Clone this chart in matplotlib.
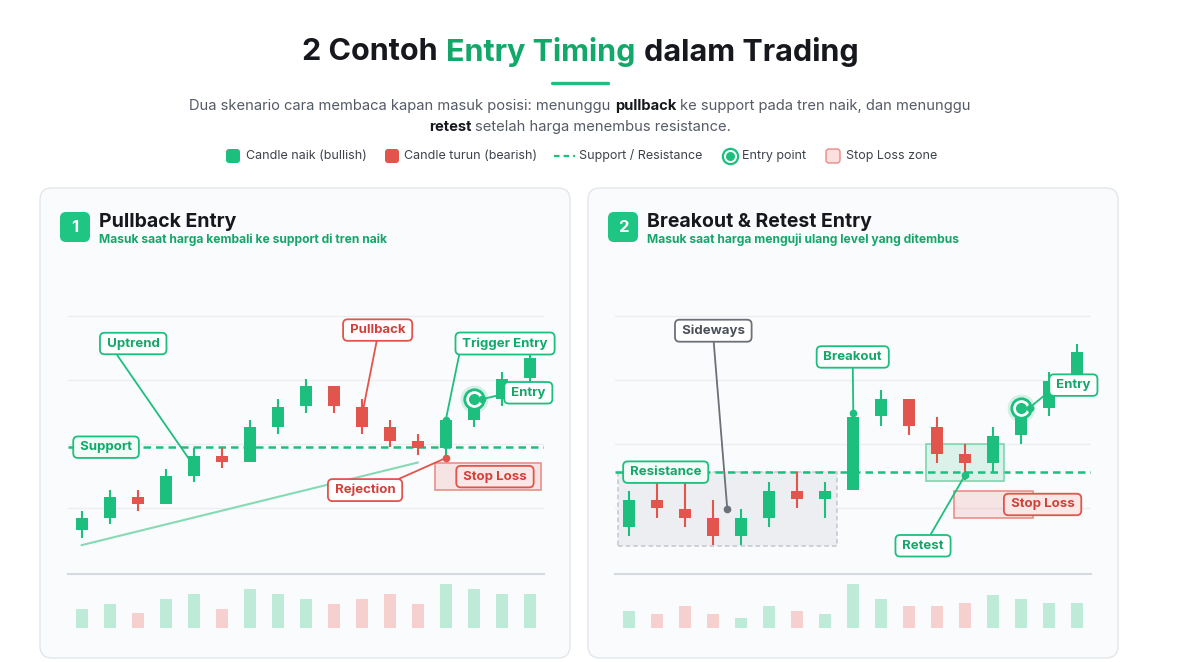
import numpy as np
import matplotlib.pyplot as plt
from matplotlib.patches import FancyBboxPatch, Rectangle

plt.rcParams['font.family'] = ['Inter', 'DejaVu Sans']

GREEN = '#1dbf7e'
GREEN_TXT = '#12a86a'
RED = '#e2544c'
RED_TXT = '#d2403a'
DARK = '#16181d'
GRAY = '#555b66'
LIGHT_GREEN = '#bdebd7'
LIGHT_RED = '#f6d0cf'

# ---------------
# Data: Pullback Entry
# ---------------
pb_open = [96.5, 98.5, 101.7, 100.7, 105.0, 108.2, 107.2, 112.7, 115.9, 119.1, 115.8, 112.6, 110.4, 109.4, 113.8, 117.0, 120.3]
pb_close = [98.4, 101.7, 100.7, 105.0, 108.2, 107.2, 112.6, 115.8, 119.1, 115.9, 112.7, 110.5, 109.4, 113.7, 115.8, 120.2, 123.4]
pb_high = [99.6, 102.8, 102.8, 106.1, 109.3, 109.3, 113.7, 117.0, 120.2, 119.1, 117.0, 113.7, 111.5, 113.7, 116.9, 121.3, 124.4]
pb_low = [95.3, 97.5, 99.6, 100.7, 104.0, 106.2, 107.2, 111.6, 114.8, 114.8, 111.6, 109.5, 108.3, 107.8, 112.7, 115.9, 119.2]
pb_volume = [4, 5, 3, 6, 7, 4, 8, 7, 6, 5, 6, 7, 5, 9, 8, 7, 7]
pb_support = 109.5
pb_trend_x = [0, 12]
pb_trend_y = [94.2, 107.1]
pb_entry_x, pb_entry_y = 14, 117.0
pb_stop_x = [12.6, 16.4]
pb_stop_y = [102.8, 107.1]

# ---------------
# Data: Breakout & Retest Entry
# ---------------
br_open = [97.1, 101.3, 99.8, 98.4, 95.7, 98.5, 102.7, 101.4, 102.8, 114.3, 117.0, 112.7, 108.4, 107.1, 111.4, 115.7, 120.9]
br_close = [101.3, 100.0, 98.5, 95.7, 98.4, 102.7, 101.4, 102.7, 114.2, 117.0, 112.8, 108.5, 107.1, 111.3, 114.3, 119.8, 124.3]
br_high = [102.7, 104.0, 104.0, 101.3, 99.8, 104.1, 105.6, 104.1, 114.9, 118.5, 117.0, 114.2, 110.0, 112.7, 115.6, 121.3, 125.6]
br_low = [95.6, 98.5, 97.1, 94.2, 94.2, 97.1, 100.0, 98.5, 102.8, 112.8, 111.4, 107.1, 104.4, 105.7, 110.0, 114.3, 119.8]
br_volume = [3.6, 2.9, 4.5, 2.9, 2.1, 4.5, 3.6, 2.9, 9, 5.9, 4.5, 4.5, 5.2, 6.8, 5.9, 5.2, 5.2]
br_resistance = 105.6
br_entry_x, br_entry_y = 14, 115.7
br_side_x = [-0.4, 7.4]
br_side_y = [94.1, 105.6]
br_retest_x = [10.6, 13.4]
br_retest_y = [104.2, 110.0]
br_stop_x = [11.6, 14.4]
br_stop_y = [98.4, 102.7]

grid_levels = [100, 110, 120, 130]

fig = plt.figure(figsize=(12, 6.62), dpi=100)
fig.patch.set_facecolor('white')

# background axes in pixel units
bg = fig.add_axes([0, 0, 1, 1])
bg.set_xlim(0, 1200)
bg.set_ylim(662, 0)
bg.axis('off')


def px_axes(left, top, right, bottom):
    ax = fig.add_axes([left / 1200, 1 - bottom / 662, (right - left) / 1200, (bottom - top) / 662])
    ax.set_facecolor('none')
    for s in ax.spines.values():
        s.set_visible(False)
    ax.set_xticks([])
    ax.set_yticks([])
    return ax


def rich_line(parts, xc, y, size):
    r = fig.canvas.get_renderer()
    sp = bg.text(0, 0, 'a a', fontsize=size)
    sp2 = bg.text(0, 0, 'aa', fontsize=size)
    space = sp.get_window_extent(r).width - sp2.get_window_extent(r).width
    sp.remove()
    sp2.remove()
    texts = []
    widths = []
    for s, c, w in parts:
        t = bg.text(0, y, s, color=c, fontweight=w, fontsize=size, va='center', ha='left')
        texts.append(t)
        widths.append(t.get_window_extent(r).width)
    total = sum(widths) + space * (len(parts) - 1)
    x = xc - total / 2
    for t, wd in zip(texts, widths):
        t.set_x(x)
        x += wd + space


# ---------------
# Title, subtitle, legend
# ---------------
rich_line([('2 Contoh', DARK, 'bold'), ('Entry Timing', GREEN_TXT, 'bold'),
           ('dalam Trading', DARK, 'bold')], 580, 52, 22)
bg.plot([552, 608], [82.5, 82.5], color=GREEN, lw=2.4, solid_capstyle='round')
rich_line([('Dua skenario cara membaca kapan masuk posisi: menunggu', GRAY, 'normal'),
           ('pullback', DARK, 'bold'),
           ('ke support pada tren naik, dan menunggu', GRAY, 'normal')], 580, 106, 10.6)
rich_line([('retest', DARK, 'bold'), ('setelah harga menembus resistance.', GRAY, 'normal')],
          580, 127, 10.6)

ly = 156
leg_col = '#3d424b'
bg.add_patch(FancyBboxPatch((226, ly - 7), 14, 14, boxstyle='round,pad=0,rounding_size=3', fc=GREEN, ec='none'))
bg.text(246, ly, 'Candle naik (bullish)', fontsize=9, color=leg_col, va='center')
bg.add_patch(FancyBboxPatch((385, ly - 7), 14, 14, boxstyle='round,pad=0,rounding_size=3', fc=RED, ec='none'))
bg.text(404, ly, 'Candle turun (bearish)', fontsize=9, color=leg_col, va='center')
bg.plot([554, 575], [ly, ly], color=GREEN, lw=1.6, dashes=(2.5, 1.8))
bg.text(579, ly, 'Support / Resistance', fontsize=9, color=leg_col, va='center')
bg.plot(730, ly, 'o', ms=11, mfc='white', mec=GREEN, mew=1.6)
bg.plot(730, ly, 'o', ms=5.5, color=GREEN)
bg.text(742, ly, 'Entry point', fontsize=9, color=leg_col, va='center')
bg.add_patch(FancyBboxPatch((826, ly - 7), 14, 14, boxstyle='round,pad=0,rounding_size=3',
                            fc='#fbe0de', ec='#eb8a84', lw=1))
bg.text(846, ly, 'Stop Loss zone', fontsize=9, color=leg_col, va='center')

# ---------------
# Cards and headers
# ---------------
for x0, num, head, sub in [(40, '1', 'Pullback Entry', 'Masuk saat harga kembali ke support di tren naik'),
                           (588, '2', 'Breakout & Retest Entry', 'Masuk saat harga menguji ulang level yang ditembus')]:
    bg.add_patch(FancyBboxPatch((x0, 188), 530, 470, boxstyle='round,pad=0,rounding_size=12',
                                fc='#fafbfc', ec='#e3e6eb', lw=1))
    bg.add_patch(FancyBboxPatch((x0 + 20, 212), 30, 30, boxstyle='round,pad=0,rounding_size=6',
                                fc='#1ec583', ec='none'))
    bg.text(x0 + 35, 227.5, num, color='white', fontsize=12, fontweight='bold', ha='center', va='center')
    bg.text(x0 + 59, 227, head, color=DARK, fontsize=14, fontweight='bold', va='baseline')
    bg.text(x0 + 59, 239.5, sub, color=GREEN_TXT, fontsize=8.7, fontweight='bold', va='center')


def draw_candles(ax, opens, closes, highs, lows):
    o = np.array(opens)
    c = np.array(closes)
    x = np.arange(len(o))
    cols = [GREEN if cc >= oo else RED for oo, cc in zip(o, c)]
    ax.vlines(x, lows, highs, colors=cols, lw=1.5, zorder=3)
    ax.bar(x, np.abs(c - o), bottom=np.minimum(o, c), width=0.42, color=cols, zorder=4)


def draw_volume(ax, volume, opens, closes):
    x = np.arange(len(volume))
    cols = [LIGHT_GREEN if cc >= oo else LIGHT_RED for oo, cc in zip(opens, closes)]
    ax.bar(x, volume, width=0.43, color=cols)
    ax.set_xlim(-0.5, len(volume) - 0.5)
    ax.set_ylim(0, 11.26)
    ax.spines['top'].set_visible(True)
    ax.spines['top'].set_color('#d5d9e0')
    ax.spines['top'].set_linewidth(1.5)


def tag(ax, text, pos, color, tcolor, xy=None, relpos=(0.5, 0.5), fc='white'):
    text = '\u2009' + text + '\u2009'
    bbox = dict(boxstyle='round,pad=0.36,rounding_size=0.35', fc=fc, ec=color, lw=1.3)
    if xy is None:
        ax.text(pos[0], pos[1], text, ha='center', va='center', color=tcolor, fontsize=9.5,
                fontweight='bold', bbox=bbox, zorder=8, clip_on=False)
        return
    ax.annotate(text, xy=xy, xytext=pos, ha='center', va='center', color=tcolor, fontsize=9.5,
                fontweight='bold', bbox=bbox, zorder=8, annotation_clip=False,
                arrowprops=dict(arrowstyle='-', color=color, lw=1.3, relpos=relpos,
                                shrinkA=0, shrinkB=0))
    ax.plot(xy[0], xy[1], 'o', ms=4.5, color=color, zorder=9, clip_on=False)


def entry_marker(ax, x, y):
    ax.plot(x, y, 'o', ms=20, color=GREEN, alpha=0.18, zorder=9, markeredgewidth=0)
    ax.plot(x, y, 'o', ms=14, mfc='white', mec=GREEN, mew=2, zorder=9)
    ax.plot(x, y, 'o', ms=7, color=GREEN, zorder=10)


def price_axes(ax):
    ax.set_xlim(-0.5, 16.5)
    ax.set_ylim(91.875, 134.06)
    for g in grid_levels:
        ax.axhline(g, color='#eceef2', lw=1, zorder=0)


# ---------------
# Panel 1: Pullback Entry
# ---------------
ax1 = px_axes(67.7, 290, 543.7, 560)
price_axes(ax1)
ax1.plot(pb_trend_x, pb_trend_y, color='#86dab5', lw=1.5, zorder=2)
ax1.axhline(pb_support, color=GREEN, lw=1.8, dashes=(3, 2), zorder=2)
ax1.add_patch(Rectangle((pb_stop_x[0], pb_stop_y[0]), pb_stop_x[1] - pb_stop_x[0], pb_stop_y[1] - pb_stop_y[0],
                        fc=RED, alpha=0.14, ec='none', zorder=2))
ax1.add_patch(Rectangle((pb_stop_x[0], pb_stop_y[0]), pb_stop_x[1] - pb_stop_x[0], pb_stop_y[1] - pb_stop_y[0],
                        fc='none', ec='#eb8f89', lw=1.2, zorder=2))
draw_candles(ax1, pb_open, pb_close, pb_high, pb_low)
entry_marker(ax1, pb_entry_x, pb_entry_y)

tag(ax1, 'Support', (0.87, pb_support), GREEN, GREEN_TXT, fc='#f2fbf7')
tag(ax1, 'Uptrend', (1.84, 125.7), GREEN, GREEN_TXT, xy=(4, (pb_open[4] + pb_close[4]) / 2), relpos=(0.15, 0))
tag(ax1, 'Pullback', (10.57, 127.8), RED, RED_TXT, xy=(10, (pb_open[10] + pb_close[10]) / 2), relpos=(0.5, 0))
tag(ax1, 'Rejection', (10.12, 102.8), RED, RED_TXT, xy=(13, pb_low[13]), relpos=(0.85, 1))
tag(ax1, 'Trigger Entry', (15.12, 125.7), GREEN, GREEN_TXT, xy=(13, pb_close[13]), relpos=(0, 0))
tag(ax1, 'Entry', (15.95, 118.0), GREEN, GREEN_TXT, xy=(pb_entry_x + 0.3, pb_entry_y), relpos=(0, 0.5))
tag(ax1, 'Stop Loss', (14.76, 104.9), RED, RED_TXT, fc='#fbe7e5')

vol1 = px_axes(67.7, 573.5, 543.7, 628)
draw_volume(vol1, pb_volume, pb_open, pb_close)

# ---------------
# Panel 2: Breakout & Retest Entry
# ---------------
ax2 = px_axes(615.3, 290, 1091.3, 560)
price_axes(ax2)
ax2.add_patch(Rectangle((br_side_x[0], br_side_y[0]), br_side_x[1] - br_side_x[0], br_side_y[1] - br_side_y[0],
                        fc='#eceef2', ec='#c3c7ce', lw=1.1, ls=(0, (3, 2)), zorder=1))
ax2.axhline(br_resistance, color=GREEN, lw=1.8, dashes=(3, 2), zorder=2)
ax2.add_patch(Rectangle((br_retest_x[0], br_retest_y[0]), br_retest_x[1] - br_retest_x[0],
                        br_retest_y[1] - br_retest_y[0], fc=GREEN, alpha=0.14, ec='none', zorder=2))
ax2.add_patch(Rectangle((br_retest_x[0], br_retest_y[0]), br_retest_x[1] - br_retest_x[0],
                        br_retest_y[1] - br_retest_y[0], fc='none', ec='#7fd6ae', lw=1.2, zorder=2))
ax2.add_patch(Rectangle((br_stop_x[0], br_stop_y[0]), br_stop_x[1] - br_stop_x[0], br_stop_y[1] - br_stop_y[0],
                        fc=RED, alpha=0.14, ec='none', zorder=2))
ax2.add_patch(Rectangle((br_stop_x[0], br_stop_y[0]), br_stop_x[1] - br_stop_x[0], br_stop_y[1] - br_stop_y[0],
                        fc='none', ec='#eb8f89', lw=1.2, zorder=2))
draw_candles(ax2, br_open, br_close, br_high, br_low)
entry_marker(ax2, br_entry_x, br_entry_y)

tag(ax2, 'Sideways', (3.0, 127.7), '#6b7079', '#4b5059', xy=(3.5, 99.8), relpos=(0.5, 0))
tag(ax2, 'Resistance', (1.3, br_resistance), GREEN, GREEN_TXT, fc='#f2fbf7')
tag(ax2, 'Breakout', (7.98, 123.6), GREEN, GREEN_TXT, xy=(8, br_high[8]), relpos=(0.5, 0))
tag(ax2, 'Retest', (10.49, 94.1), GREEN, GREEN_TXT, xy=(12, br_resistance - 0.4), relpos=(0.6, 1))
tag(ax2, 'Stop Loss', (14.76, 100.55), RED, RED_TXT, fc='#fbe7e5')
tag(ax2, 'Entry', (15.86, 119.2), GREEN, GREEN_TXT, xy=(br_entry_x + 0.3, br_entry_y), relpos=(0, 0.3))

vol2 = px_axes(615.3, 573.5, 1091.3, 628)
draw_volume(vol2, br_volume, br_open, br_close)

fig.savefig('out.png', dpi=100)
